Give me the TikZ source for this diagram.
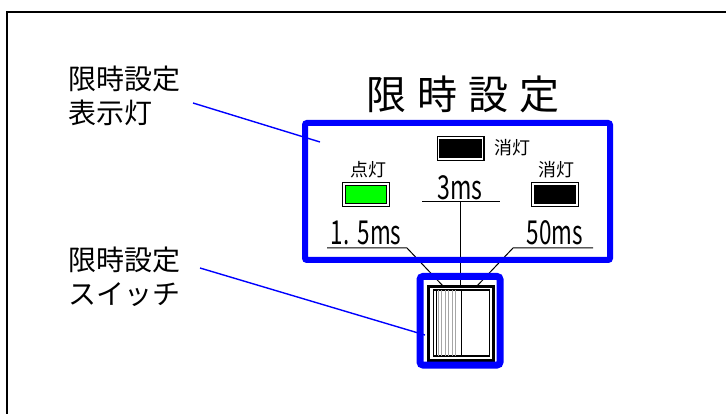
\documentclass[tikz,border=0pt]{standalone}
\usepackage{fontspec}
\usepackage{graphicx}
\setmainfont{Noto Sans CJK JP}
\newfontfamily\jpfont{Noto Sans CJK JP}
\definecolor{pblue}{RGB}{0,0,255}
\definecolor{pgreen}{RGB}{0,255,0}
\tikzset{
  frameline/.style={line width=2pt, black},
  panel/.style={draw=pblue, line width=6pt, rounded corners=2pt, inner sep=0pt},
  swbox/.style={draw=pblue, line width=7pt, rounded corners=3pt, inner sep=0pt},
  leader/.style={draw=pblue, line width=1.4pt},
  wire/.style={draw=black, line width=1pt},
  lamp/.style={draw=black, line width=1.2pt, double=white, double distance=1.6pt, inner sep=0pt, minimum width=44pt, minimum height=21pt},
  biglbl/.style={inner sep=0pt, align=left, font=\jpfont\fontsize{28}{34}\selectfont},
  smalllbl/.style={inner sep=0pt, font=\jpfont\fontsize{18}{20}\selectfont},
  mslbl/.style={inner sep=0pt, font=\jpfont\fontsize{33}{36}\selectfont},
}
\begin{document}
\begin{tikzpicture}[x=1pt,y=-1pt]
\useasboundingbox (0,0) rectangle (726,414);
% outer frame (partly visible)
\draw[frameline] (726,12) -- (7,12) -- (7,414);

% title
\node[inner sep=0pt, font=\jpfont\fontsize{40}{44}\selectfont] (title) at (463,94) {限\kern11pt 時\kern11pt 設\kern11pt 定};

% left labels
\node[biglbl, anchor=north west] (lbl1) at (68,66) {限時設定\\表示灯};
\node[biglbl, anchor=north west] (lbl2) at (68,247) {限時設定\\スイッチ};

% lamps
\node[lamp, fill=black] (lampc) at (460.5,148.5) {};
\node[lamp, fill=pgreen] (lampl) at (366,194.5) {};
\node[lamp, fill=black] (lampr) at (555,194.5) {};
\node[smalllbl] (tc) at (512,148) {消灯};
\node[smalllbl] (tl) at (368,170) {点灯};
\node[smalllbl] (tr) at (556,170) {消灯};

% ms labels
\node[mslbl, anchor=base] (m3) at (460,200) {\scalebox{0.7}[1]{3ms}};
\node[mslbl, anchor=base] (m15) at (366,245) {\scalebox{0.68}[1]{1.\kern12pt 5ms}};
\node[mslbl, anchor=base] (m50) at (555,245) {\scalebox{0.68}[1]{50ms}};

\coordinate (u3a) at (422,202); \coordinate (u3b) at (500,202);
\coordinate (u15a) at (327,248); \coordinate (u15b) at (407,248);
\coordinate (u50a) at (513,248); \coordinate (u50b) at (593,248);
\coordinate (s3) at (460,288);
\coordinate (s15) at (443,286);
\coordinate (s50) at (477,286);
\coordinate (m3c) at (460,202);

\draw[wire] (u3a) -- (u3b);
\draw[wire] (u15a) -- (u15b) -- (s15);
\draw[wire] (u50b) -- (u50a) -- (s50);
\draw[wire] (m3c) -- (s3);

% switch body
\node[draw=black, line width=3pt, minimum width=65pt, minimum height=74pt, inner sep=0pt] (swout) at (461,323.5) {};
\node[draw=black, line width=1.2pt, minimum width=56pt, minimum height=66pt, inner sep=0pt] (swin) at (461.5,323) {};
\draw[line width=1.5pt] (swin.north) -- (swin.south);
\foreach \xx in {438,441.5,445,448.5,452,455.5}
  \draw[gray!70, line width=0.6pt] (\xx,290) -- (\xx,356);
\draw[black, line width=0.8pt] (436.5,290) -- (436.5,356);

% blue panels
\node[panel, minimum width=305pt, minimum height=137pt] (disp) at (457.5,191.5) {};
\node[swbox, minimum width=80pt, minimum height=88.5pt] (sw) at (460,320.75) {};

% leaders
\coordinate (l1a) at (193,103);
\coordinate (l1b) at (320,142);
\coordinate (l2a) at (200,268);
\coordinate (l2b) at (425,335);
\draw[leader] (l1a) -- (l1b);
\draw[leader] (l2a) -- (l2b);
\end{tikzpicture}
\end{document}
